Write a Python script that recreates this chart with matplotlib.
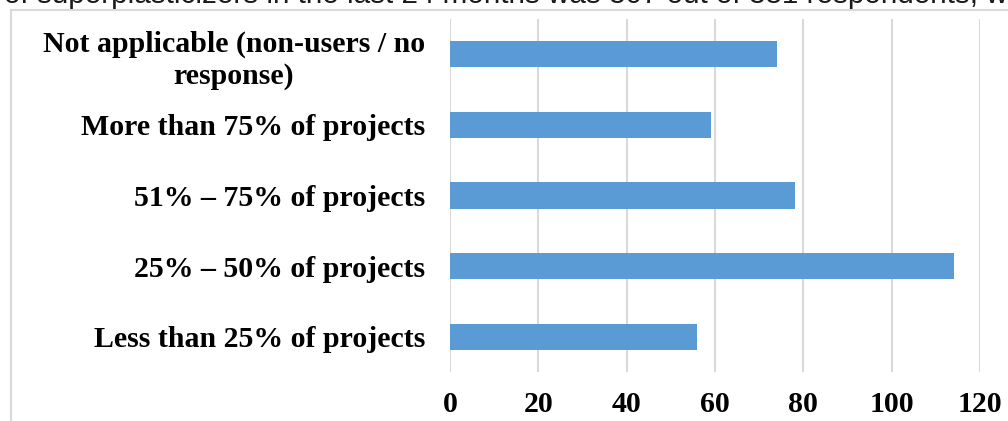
import matplotlib
matplotlib.use("Agg")
import matplotlib.pyplot as plt
from matplotlib.patches import Rectangle

# Categorias (de baixo para cima) e valores
categorias = [
    "Less than 25% of projects",
    "25% \u2013 50% of projects",
    "51% \u2013 75% of projects",
    "More than 75% of projects",
    "Not applicable (non-users / no\nresponse)",
]
valores = [56, 114, 78, 59, 74]
ticks_x = [0, 20, 40, 60, 80, 100, 120]
texto_topo = "of superplasticizers in the last 24 months was 307 out of 381 respondents, w"

W, H = 1008, 421
fig = plt.figure(figsize=(W / 100, H / 100), dpi=100)

# Moldura cinza do gráfico (cortada à direita e embaixo)
fig.patches.append(Rectangle((11 / W, -0.1), 1.2, 1 - 10 / H + 0.1,
                             transform=fig.transFigure, fill=False,
                             edgecolor="#d9d9d9", linewidth=1.5))

# Linha de texto do documento, cortada no topo
fig.text(4 / W, 1 - 3 / H, texto_topo, fontsize=21.3, family="Liberation Sans",
         va="baseline", ha="left", color="#1a1a1a")

ax = fig.add_axes([450 / W, 1 - 372 / H, 530 / W, 353 / H])
y = range(len(categorias))
ax.barh(y, valores, height=0.37, color="#5b9bd5", zorder=3)

ax.set_xlim(0, 120)
ax.set_ylim(-0.5, len(categorias) - 0.5)
ax.set_xticks(ticks_x)
ax.set_xticklabels([str(t) for t in ticks_x])
ax.set_yticks(list(y))
ax.set_yticklabels(categorias, multialignment="center", linespacing=1.25)

for lbl in ax.get_xticklabels() + ax.get_yticklabels():
    lbl.set_fontfamily("Liberation Serif")
    lbl.set_fontweight("bold")
    lbl.set_fontsize(21.5)
    lbl.set_color("black")

ax.tick_params(axis="both", length=0)
ax.tick_params(axis="x", pad=14)
ax.tick_params(axis="y", pad=18)

ax.grid(axis="x", color="#d9d9d9", linewidth=1.5, zorder=0)
for s in ax.spines.values():
    s.set_visible(False)

fig.savefig("out.png", dpi=100)
